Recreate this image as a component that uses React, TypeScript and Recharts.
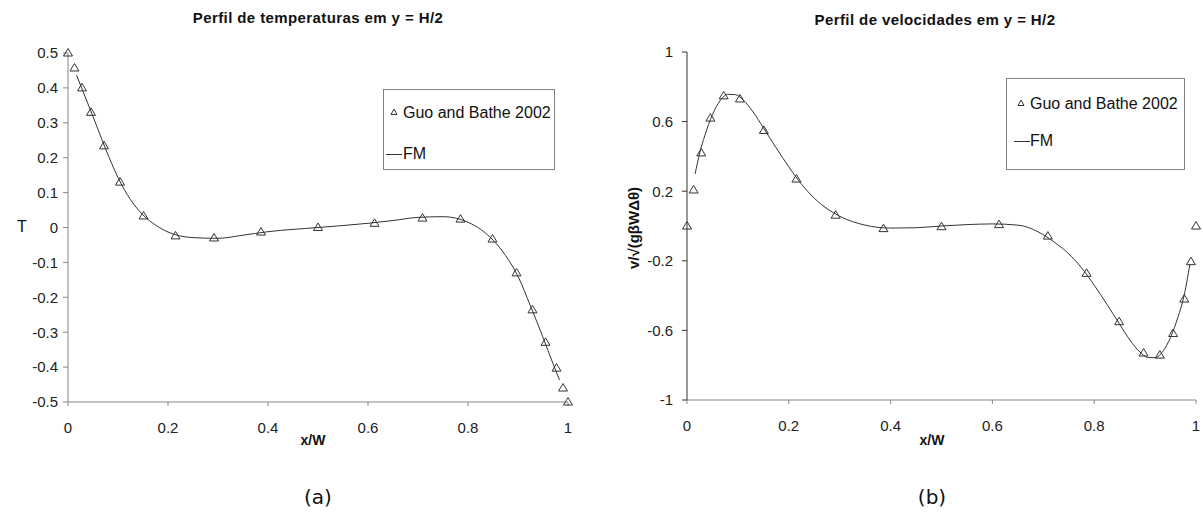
import { ComposedChart, Line, Scatter, XAxis, YAxis } from "recharts";

// x/W positions of the reference points (Guo and Bathe 2002)
const refX = [0, 0.013, 0.028, 0.046, 0.072, 0.104, 0.151, 0.215, 0.292, 0.386, 0.5, 0.613, 0.709, 0.785, 0.849, 0.897, 0.929, 0.955, 0.977, 0.99, 1];
const refTemp = [0.5, 0.457, 0.4, 0.33, 0.234, 0.13, 0.033, -0.024, -0.03, -0.013, 0, 0.012, 0.027, 0.024, -0.033, -0.13, -0.236, -0.329, -0.403, -0.46, -0.5];
const refVel = [0, 0.207, 0.42, 0.62, 0.748, 0.73, 0.549, 0.27, 0.062, -0.015, -0.004, 0.008, -0.058, -0.272, -0.55, -0.73, -0.742, -0.618, -0.42, -0.205, 0];

// FM curves
const fmTempX = [0.017, 0.03, 0.05, 0.075, 0.1, 0.125, 0.15, 0.175, 0.2, 0.25, 0.3, 0.35, 0.4, 0.5, 0.6, 0.65, 0.7, 0.75, 0.8, 0.825, 0.85, 0.875, 0.9, 0.925, 0.95, 0.97, 0.983];
const fmTempY = [0.437, 0.39, 0.318, 0.226, 0.143, 0.08, 0.036, 0.007, -0.013, -0.029, -0.031, -0.022, -0.012, 0, 0.012, 0.02, 0.029, 0.031, 0.015, -0.005, -0.036, -0.08, -0.14, -0.225, -0.315, -0.39, -0.437];
const fmVelX = [0.016, 0.025, 0.035, 0.05, 0.065, 0.08, 0.095, 0.11, 0.13, 0.15, 0.175, 0.2, 0.225, 0.25, 0.275, 0.3, 0.35, 0.4, 0.45, 0.5, 0.55, 0.6, 0.65, 0.7, 0.725, 0.75, 0.775, 0.8, 0.825, 0.85, 0.87, 0.89, 0.905, 0.92, 0.935, 0.95, 0.965, 0.975, 0.988];
const fmVelY = [0.3, 0.42, 0.52, 0.64, 0.72, 0.757, 0.755, 0.725, 0.655, 0.565, 0.45, 0.34, 0.24, 0.16, 0.1, 0.056, 0.005, -0.012, -0.01, 0, 0.008, 0.012, 0.005, -0.05, -0.1, -0.16, -0.24, -0.34, -0.45, -0.565, -0.655, -0.725, -0.755, -0.757, -0.72, -0.64, -0.52, -0.42, -0.22];

const xTicks = [0, 0.2, 0.4, 0.6, 0.8, 1];
const tempTicks = [-0.5, -0.4, -0.3, -0.2, -0.1, 0, 0.1, 0.2, 0.3, 0.4, 0.5];
const velTicks = [-1, -0.6, -0.2, 0.2, 0.6, 1];

const zip = (xs: number[], ys: number[]) => xs.map((x, i) => ({ x, y: ys[i] }));

const Tri = (p: any) => {
  const { cx, cy } = p;
  return <path d={`M${cx},${cy - 4.5}L${cx + 4.5},${cy + 3}L${cx - 4.5},${cy + 3}Z`} fill="none" stroke="#333" strokeWidth={1} />;
};

const txt = (x: number, y: number, extra: any = {}) => ({
  position: "absolute" as const,
  left: x,
  top: y,
  transform: "translate(-50%, -50%)",
  whiteSpace: "nowrap" as const,
  color: "#111",
  ...extra,
});

// legend box drawn by hand (row1/row2 = vertical centre of each row from box top)
function LegendBox({ left, top, width, height, row1, row2, triX, textX, lineX }: any) {
  const row = (y: number) => ({ position: "absolute" as const, top: y, transform: "translateY(-50%)", whiteSpace: "nowrap" as const });
  return (
    <div style={{ position: "absolute", left, top, width, height, border: "1px solid #808080", boxSizing: "border-box", fontSize: 16, color: "#111" }}>
      <svg style={{ position: "absolute", left: triX - 4, top: row1 - 5 }} width={8} height={8}>
        <path d="M4,1L7,6.5L1,6.5Z" fill="none" stroke="#333" />
      </svg>
      <span style={{ ...row(row1), left: textX }}>Guo and Bathe 2002</span>
      <div style={{ position: "absolute", left: lineX[0], top: row2, width: lineX[1] - lineX[0], height: 1, background: "#333" }} />
      <span style={{ ...row(row2), left: textX }}>FM</span>
    </div>
  );
}

export default function App() {
  const tick = { fontSize: 15, fill: "#222" };
  return (
    <div style={{ position: "absolute", left: 0, top: 0, width: 1203, height: 520, background: "#fff", fontFamily: "'Liberation Sans', Arial, sans-serif" }}>
      <div style={{ position: "absolute", left: 0, top: 0 }}>
        <ComposedChart width={600} height={520} margin={{ top: 53, right: 32, bottom: 88, left: 8 }}>
          <XAxis type="number" dataKey="x" domain={[0, 1]} ticks={xTicks} tick={tick} tickSize={4} tickMargin={16} height={30} stroke="#888" />
          <YAxis type="number" dataKey="y" domain={[-0.5, 0.5]} ticks={tempTicks} tick={tick} tickSize={5} tickMargin={5} width={60} stroke="#888" />
          <Line data={zip(fmTempX, fmTempY)} dataKey="y" type="monotone" stroke="#333" strokeWidth={1} dot={false} isAnimationActive={false} />
          <Scatter data={zip(refX, refTemp)} dataKey="y" shape={Tri} isAnimationActive={false} />
        </ComposedChart>
      </div>
      <div style={{ position: "absolute", left: 600, top: 0 }}>
        <ComposedChart width={603} height={520} margin={{ top: 52, right: 7, bottom: 90, left: 27 }}>
          <XAxis type="number" dataKey="x" domain={[0, 1]} ticks={xTicks} tick={tick} tickSize={4} tickMargin={16} height={30} stroke="#888" />
          <YAxis type="number" dataKey="y" domain={[-1, 1]} ticks={velTicks} tick={tick} tickSize={5} tickMargin={9} width={60} stroke="#333" />
          <Line data={zip(fmVelX, fmVelY)} dataKey="y" type="monotone" stroke="#333" strokeWidth={1} dot={false} isAnimationActive={false} />
          <Scatter data={zip(refX, refVel)} dataKey="y" shape={Tri} isAnimationActive={false} />
        </ComposedChart>
      </div>

      <div style={txt(318, 17, { fontWeight: "bold", fontSize: 15, letterSpacing: 0.4 })}>Perfil de temperaturas em y = H/2</div>
      <div style={txt(935, 19, { fontWeight: "bold", fontSize: 15, letterSpacing: 0.4 })}>Perfil de velocidades em y = H/2</div>

      <div style={txt(22, 227, { fontSize: 16 })}>T</div>
      <div style={txt(633, 228, { fontWeight: "bold", fontSize: 15, transform: "translate(-50%, -50%) rotate(-90deg)" })}>v/√(gβWΔθ)</div>
      <div style={txt(313, 440, { fontWeight: "bold", fontSize: 14 })}>x/W</div>
      <div style={txt(932, 440, { fontWeight: "bold", fontSize: 14 })}>x/W</div>

      <LegendBox left={383} top={89} width={172} height={81} row1={23} row2={64} triX={10} textX={19} lineX={[2, 18]} />
      <LegendBox left={1006} top={78} width={179} height={92} row1={25} row2={62} triX={14} textX={23} lineX={[7, 23]} />

      <div style={txt(318, 497, { fontSize: 20, fontFamily: "'DejaVu Sans', sans-serif" })}>(a)</div>
      <div style={txt(932, 497, { fontSize: 20, fontFamily: "'DejaVu Sans', sans-serif" })}>(b)</div>
    </div>
  );
}
